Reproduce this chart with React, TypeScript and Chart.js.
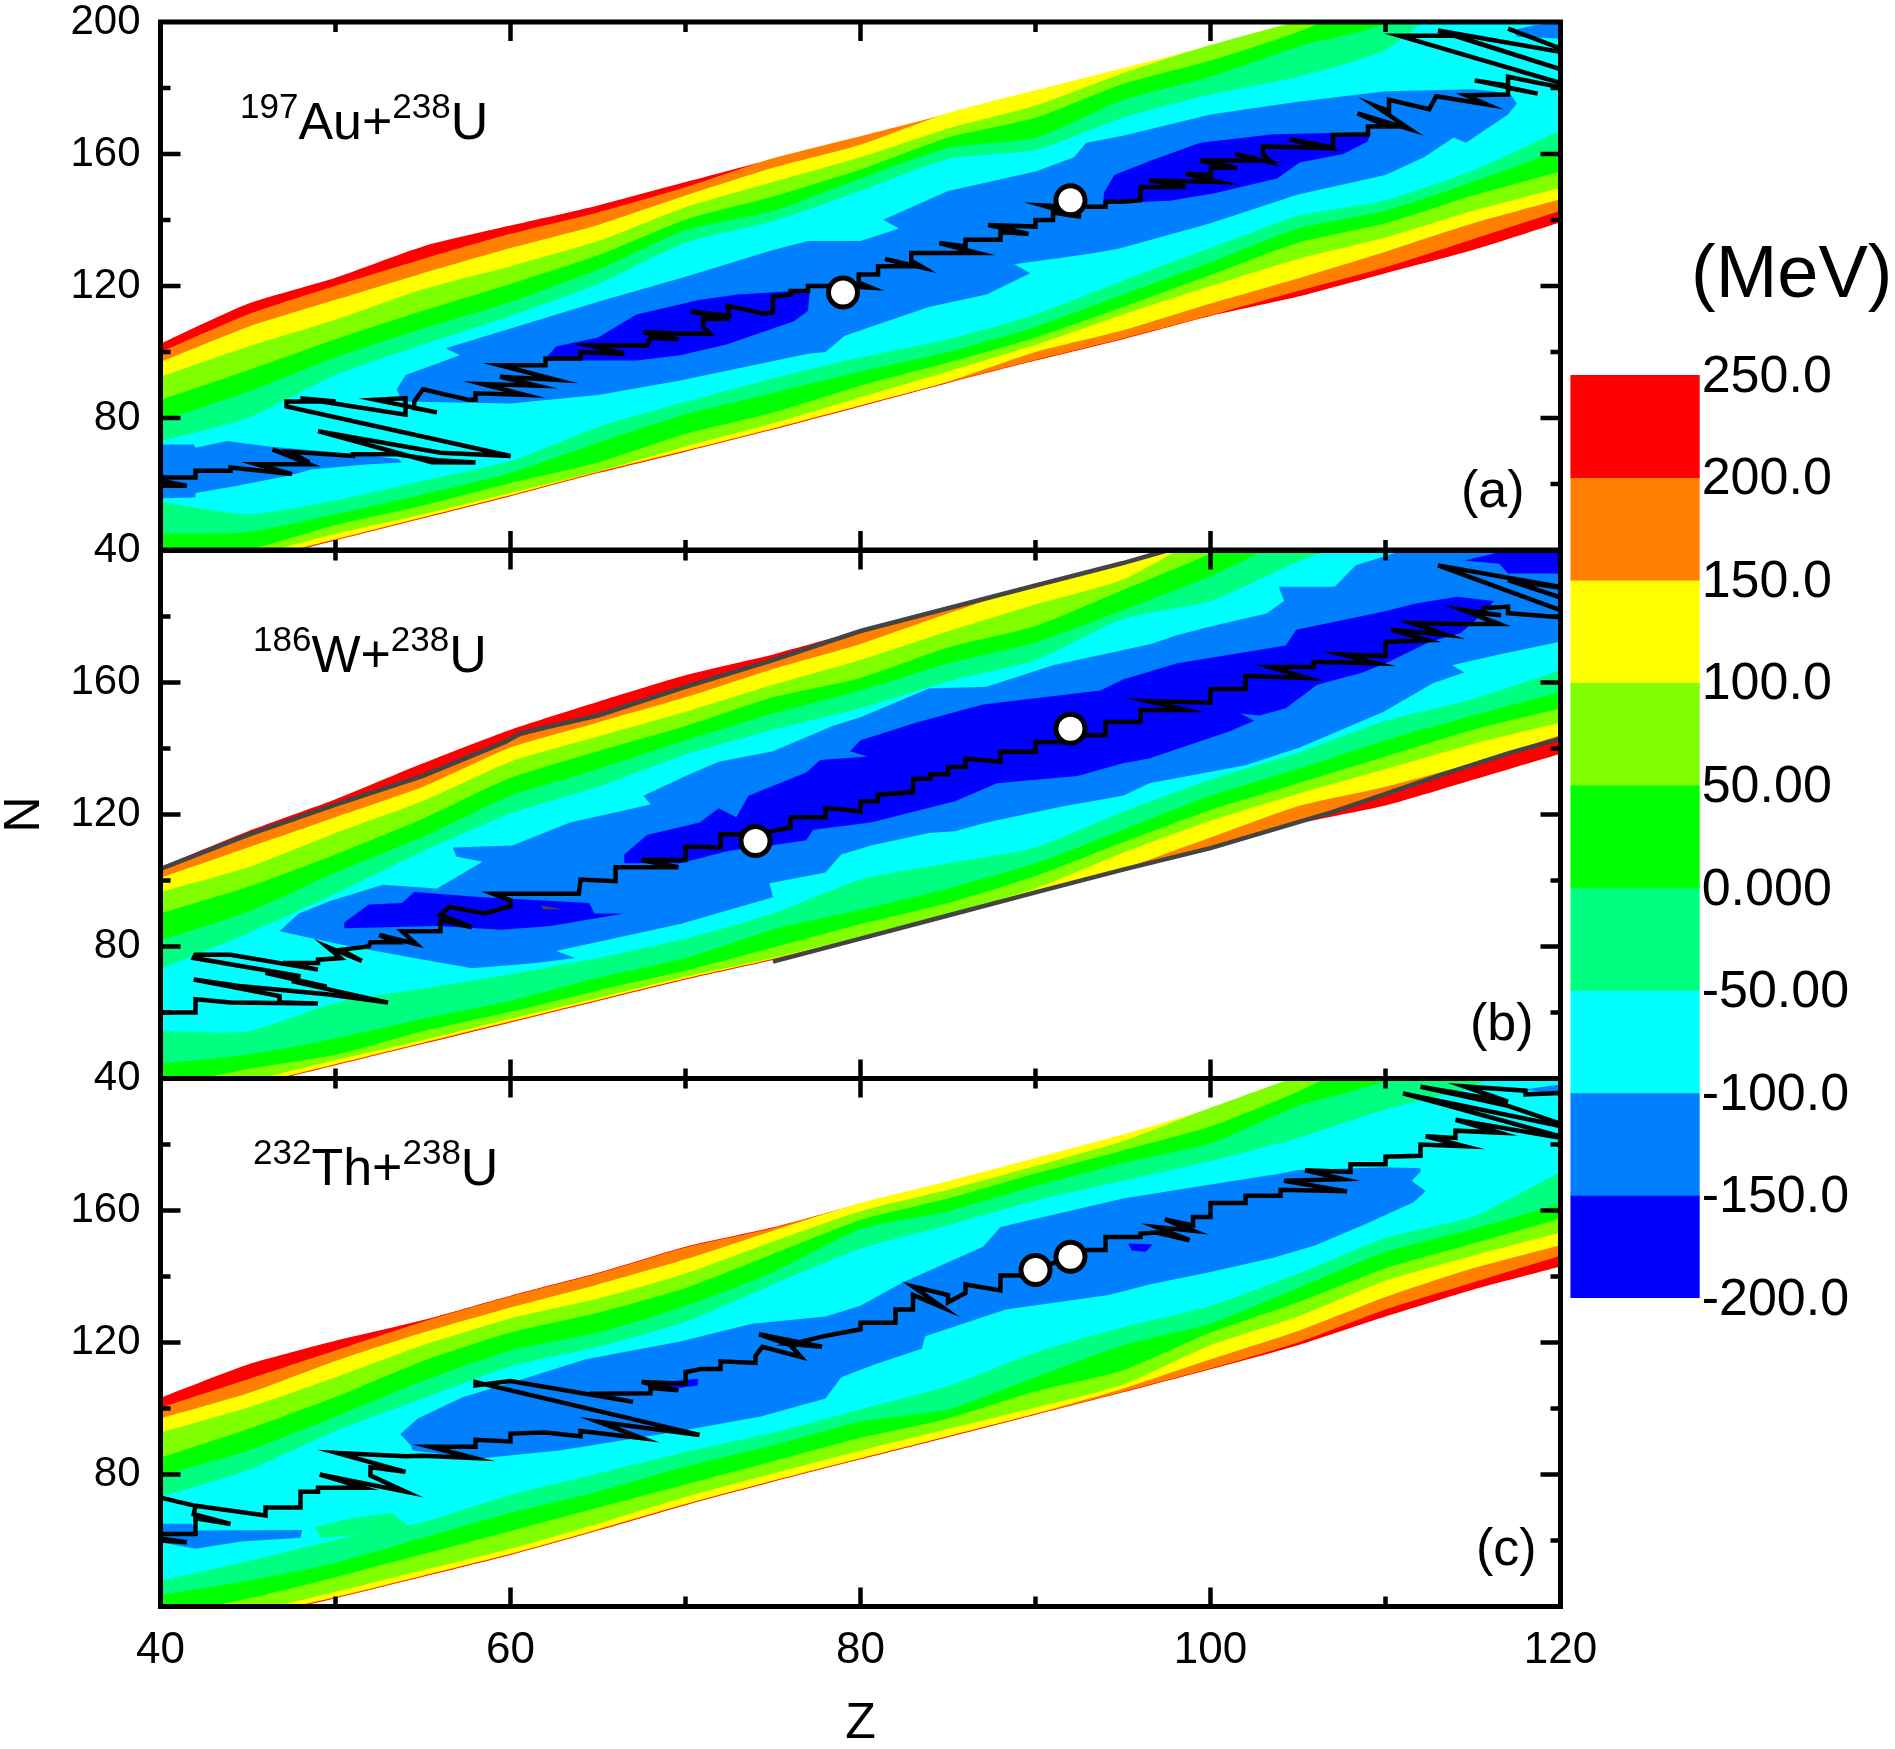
import React, { useEffect, useRef } from "react";
import { Chart, registerables } from "chart.js";

Chart.register(...registerables);

const FONT = "'Liberation Sans', Arial, sans-serif";
const PAGE_W = 1895;
const PAGE_H = 1749;

const zGrid = [40, 45, 50, 55, 60, 65, 70, 75, 80, 85, 90, 95, 100, 105, 110, 115, 120];

// outer to inner: 200-250, 150-200, 100-150, 50-100, 0-50, -50-0, -100--50, -150--100, -200--150
const levelColors = ["#ff0000", "#ff8000", "#ffff00", "#80ff00", "#00ff00", "#00ff80", "#00ffff", "#0080ff", "#0000ff"];
const levelEdges = [250, 200, 150, 100, 50, 0, -50, -100, -150, -200];
const levelLabels = ["250.0", "200.0", "150.0", "100.0", "50.00", "0.000", "-50.00", "-100.0", "-150.0", "-200.0"];

const zMajor = [60, 80, 100];
const zMinor = [50, 70, 90, 110];
const nMajor = [80, 120, 160];
const nMinor = [60, 100, 140, 180];

// panel (a) 197Au+238U
const aUpper = [
  [102.5, 114.6, 122.5, 132, 138.3, 144.4, 151.5, 158.5, 165.2, 172, 178.9, 185.6, 192.4, 199.6, 206, 213, 220],
  [100, 111.4, 120.1, 128.2, 135.8, 142.3, 149.9, 158.7, 165.4, 172.2, 179.1, 185.8, 192.6, 199.8, 206.2, 213.2, 220.2],
  [97, 107.6, 115.8, 123.9, 131.5, 138.5, 147.4, 155.8, 162.8, 172.4, 179.3, 186, 192.8, 200, 206.4, 213.4, 220.4],
  [92.5, 101.7, 109.8, 119, 126, 133.6, 143.9, 151.5, 159, 167.7, 174.7, 184.5, 193, 200.2, 206.6, 213.6, 220.6],
  [85.5, 94.5, 103.9, 112.5, 120.6, 129.3, 140.1, 147.1, 155.3, 165, 171, 181.2, 188.3, 197, 208, 216.5, 224],
  [79, 88, 98.4, 107.1, 115.2, 125, 136.9, 142.8, 152.6, 161.8, 165, 176.4, 183.4, 192.6, 199.5, 216, 223],
  [73, 80, 93, 102.2, 110.9, 120.6, 133.1, 139.6, 148.8, 158.5, 161.2, 171, 178, 183.4, 191.5, 212, 222],
];
const aLower = [
  [29.6, 36.2, 42.9, 49.6, 56.3, 63.3, 69.8, 76.5, 83.5, 90.6, 97.4, 103.9, 110.9, 116.8, 123.9, 130.9, 139.3],
  [29.8, 36.4, 43.1, 49.8, 56.5, 63.5, 70, 76.7, 83.7, 90.8, 97.6, 104.1, 111.1, 118.5, 125.7, 134.2, 142.8],
  [30, 36.6, 43.3, 50, 56.7, 63.7, 70.2, 76.9, 83.9, 91, 100, 106.6, 114.7, 122.3, 130.4, 139, 146.3],
  [30.5, 37.8, 44.9, 50.8, 57.3, 63.8, 71.4, 78.4, 86.3, 94.1, 102.2, 111.4, 120, 128.2, 134.7, 142.8, 149.8],
  [34.6, 40, 47.6, 53.5, 60.3, 66.5, 75.2, 81.7, 89.8, 96.8, 104.4, 113.6, 123.3, 133.1, 139, 147.4, 154.7],
  [44.9, 45.4, 50.8, 56.8, 63.3, 72.5, 81.1, 87.6, 94.1, 100, 107.6, 117.4, 127.1, 137.4, 142.8, 151.5, 161.2],
  [54.6, 50.8, 55, 61, 67, 77.3, 84.9, 92, 98.4, 103.9, 111.4, 121.7, 131.5, 141.2, 146, 155, 167.2],
];
const aAzure = [
  [53.5, 88.7], [54, 93], [57.1, 99], [56.3, 101.1], [60, 107.1], [65, 115.2], [70, 122.8], [75, 130.9], [77, 133.6], [80, 133.6],
  [82.2, 137.4], [81.3, 140.1], [85, 148.8], [90, 154.7], [92.2, 159], [92.9, 163.4], [95, 165.5], [100, 172], [105, 175.8],
  [110, 179], [115, 179.6], [117.1, 178.5], [117.5, 175.3], [117, 172], [114.6, 163.4], [113.9, 165], [112.2, 159], [110, 153.6],
  [105, 147.7], [100, 139], [94.8, 131.4], [93.1, 129.8], [88.8, 126.6], [89.7, 123.9], [87.2, 117.4], [83.9, 113.6], [79.1, 104.9],
  [78, 100], [77, 99.5], [69.7, 91.4], [65, 87], [60, 84.4], [53.8, 85],
];
const aAzureLeft = [
  [40, 72], [41.9, 72], [42, 71], [43.8, 73], [46.2, 71.4], [51, 69.2], [53.6, 67.6], [53.8, 66.5], [51.9, 66], [48.6, 64.4],
  [47.5, 62.7], [44.4, 59.5], [42, 57.3], [42, 55.9], [40, 55.7],
];
const aAzureCorner = [[117.3, 197.5], [117.5, 195.5], [120, 195], [120, 200], [118.5, 199]];
const aBlueLeft = [
  [61.9, 97.4], [62.6, 101.7], [65, 104.4], [67.2, 111.4], [70.8, 115.8], [73, 117.4], [77.1, 118.8], [77, 112.5], [76.2, 109.3],
  [72.3, 102.2], [69.7, 99], [67.2, 97.4],
];
const aBlueRight = [
  [93.9, 148.2], [94.5, 153.6], [96.6, 158], [99.4, 163.4], [103.6, 166], [106.8, 166.4], [109.1, 166], [109, 163.9], [107.6, 160],
  [105.1, 157.4], [103.8, 152.6], [100.3, 148.2], [97.7, 145.8], [93.9, 145],
];
const aPath = [
  [40, 59.5], [41.5, 59.5], [40, 61], [40, 62], [42, 62], [42, 64], [44, 64], [44, 65], [47.5, 63], [45.5, 66], [48.5, 66], [46.4, 70.5],
  [48.5, 66.5], [47.4, 69.8], [51, 68.5], [51, 69], [53.5, 69], [55.8, 67.2], [58, 66.5], [55.5, 66.6], [49, 76], [56, 69.5], [60, 68.5],
  [47.2, 83.5], [47.2, 85], [50, 85], [48, 86], [54, 81], [54, 86], [52.3, 85.5], [55.8, 81.7], [54.5, 83], [54.5, 85], [55, 88.7],
  [57.6, 85.5], [58, 85.5], [58, 87.5], [60.8, 87], [58.4, 90.3], [61.5, 89.8], [59.4, 92.5], [62.6, 91.6], [59.4, 96], [62, 96],
  [62, 98], [64, 98], [64, 100], [66.5, 99.5], [64.5, 102], [67.8, 102], [68, 104.4], [69.6, 103.8], [67.6, 106], [70, 105.5],
  [71.4, 105.5], [71, 107.6], [71, 110], [72.5, 110], [70.3, 112.3], [72.5, 111], [72.4, 114], [74.5, 111.6], [75, 112], [75, 116.8],
  [76, 117.4], [76, 118.5], [77, 118.5], [77, 120], [79, 120], [80.6, 119.5], [79.9, 121], [79.9, 123.5], [81, 123.5], [81, 126],
  [83, 126], [81.4, 128.2], [83.6, 125.5], [82.9, 127.7], [82.9, 130], [85, 130], [86.7, 130], [84.5, 133], [86, 132], [86, 134],
  [88, 134], [88, 136.3], [89.6, 135.8], [87.3, 138.5], [90, 138], [90, 140], [91, 140], [91, 142.3], [92.6, 141], [90.4, 144.4],
  [92, 144], [94, 144], [94, 145.5], [95, 145.5], [96, 146], [96, 150], [98.6, 150], [96.5, 152], [100.5, 151.5], [98.6, 154], [100, 153.6],
  [100, 155.8], [101.5, 155.8], [99.4, 158], [103, 158], [101.4, 160], [103.5, 157.4], [103, 160], [103, 162.3], [106.5, 161.8],
  [104.5, 164.5], [107, 162], [107, 165.8], [109, 166], [109, 168.3], [110.2, 168.3], [108.4, 172.3], [111.4, 167.5], [109.4, 174.6],
  [110.2, 173], [110.2, 176.4], [112.5, 173.6], [112.9, 177.5], [115.8, 175], [114.6, 177.8], [117, 178], [117, 180.7], [115.1, 182.3],
  [118.7, 178.3], [117, 180], [117, 183.4], [120, 180.2], [121, 180], [110.8, 195.8], [114, 195.8], [121, 184], [113, 197.4], [121, 190], [117, 198],
];
const aMarks = [[79, 118], [92, 146]];

// panel (b) 186W+238U
const bUpper = [
  [104, 114.9, 124.6, 135.5, 145.7, 154.2, 162.2, 168.5, 175.8, 182.5, 189.4, 196.2, 204, 211, 218, 225, 232],
  [103.6, 113.8, 123, 131.7, 142.7, 150, 158.7, 166.8, 176, 182.7, 189.6, 196.4, 204.2, 211.2, 218.2, 225.2, 232.2],
  [100.8, 110, 119.2, 128.4, 140.3, 147.9, 155.5, 164.1, 171.7, 180.9, 189.8, 196.6, 204.4, 211.4, 218.4, 225.4, 232.4],
  [96.5, 104, 114.4, 124.1, 136, 143.6, 151.1, 159.3, 166.8, 175.5, 183.6, 191.2, 205, 211.6, 218.6, 225.6, 232.6],
  [90, 98.1, 107.9, 118.7, 131.1, 139.2, 146.8, 155.5, 161.4, 170.6, 177.1, 188, 199, 211.8, 218.8, 225.8, 232.8],
  [81.9, 90.5, 102.4, 113.3, 125.7, 133.8, 142.5, 150.6, 157.6, 165.8, 172.2, 182, 192.3, 205, 219, 226, 233],
  [73.2, 84, 96, 108.9, 120.3, 128.4, 138.2, 145.7, 152.2, 160.3, 166.8, 179.3, 184.7, 196.6, 206, 215, 225],
];
const bLower = [
  [31, 37.5, 44, 50.5, 57, 63.5, 70, 75.9, 82.3, 89.3, 96.3, 103.2, 109.7, 117.2, 122.7, 130.5, 138.4],
  [31.2, 37.7, 44.2, 50.7, 57.2, 63.7, 70.2, 76.1, 82.5, 89.5, 96.5, 103.4, 110, 117.6, 125.7, 134.9, 143],
  [31.4, 37.9, 44.4, 50.9, 57.4, 63.9, 70.4, 76.3, 82.7, 89.7, 96.7, 103.6, 113, 122.5, 128.4, 135.5, 144.1],
  [33, 39.1, 45.6, 51.6, 58.1, 64.4, 70.8, 76.5, 83, 89.9, 97.6, 108.4, 118.1, 126.3, 133.8, 141.4, 147.9],
  [37.5, 42.9, 47.2, 54.3, 60.2, 66.7, 72.7, 79.7, 86.8, 93.2, 101.4, 111.6, 121.4, 129.5, 137.6, 145.7, 152.2],
  [44.5, 47.2, 52.1, 58.1, 63.5, 70.5, 76.5, 85.1, 91.1, 97.6, 105.2, 115.4, 125.7, 133.8, 142.5, 150, 157.1],
  [54.3, 54.3, 62.9, 67.3, 71.6, 76.5, 82.4, 90, 100.3, 105.2, 110, 120.8, 130.6, 138.7, 148.4, 155, 163.6],
];
const bAzure = [
  [46.8, 84.6], [47.9, 90], [49.7, 93.8], [52.7, 98.7], [55.8, 97.6], [58.4, 105.7], [56.9, 107.3], [56.7, 110], [60.1, 110.6],
  [63.4, 117.6], [68, 123], [67.6, 125.7], [70, 131.7], [71.9, 136], [75, 139.2], [78.4, 146.8], [80, 149.5], [83.9, 158.2],
  [87.2, 158.7], [91, 165.2], [96.6, 171.7], [98.1, 174.4], [100, 177], [103.2, 180.9], [104.2, 184.7], [103.9, 189], [107.1, 189],
  [108.3, 195.5], [110.6, 199.3], [110.8, 201], [120, 201], [119.9, 172.3], [116.5, 168.5], [113.8, 165.2], [114.5, 163], [112.7, 159.8],
  [109.9, 151.1], [105.1, 140.3], [102, 134.9], [96.5, 129.5], [95, 125.7], [91.6, 122.5], [87.2, 117.6], [85.4, 114.9], [83.9, 114.4],
  [80.6, 110.6], [78.9, 107.9], [78, 102.4], [74.8, 99.2], [75, 94.9], [69.7, 86.8], [62.6, 78.6], [63.7, 76.5], [61.3, 74.9], [57.8, 73.4],
  [54, 77], [50.1, 80.8],
];
const bBlueLeft = [
  [50.5, 87.3], [51.9, 92.7], [53.8, 93.2], [54.5, 96.5], [58.4, 94.9], [64.5, 93.2], [64.8, 90], [66.5, 90], [62.3, 86.2],
  [59.5, 85.1], [55.8, 86.2], [50.5, 85.5],
];
const bBlueMain = [
  [66.5, 107.9], [67.8, 113.8], [70.8, 117.6], [71.9, 121.9], [72.9, 119.2], [73.6, 125.7], [76.9, 132.7], [77.7, 136.5], [80.4, 137.6],
  [79.4, 139.2], [80, 142.5], [83.2, 147.9], [87, 153.3], [93.7, 157.6], [95, 160.9], [98.1, 165.8], [104.3, 171.2], [104.9, 176],
  [109.9, 181.5], [111.8, 184], [114.1, 186], [116.2, 184.7], [115.8, 182], [114.3, 175], [112.5, 172.3], [110.2, 166.3], [108.7, 163],
  [106.1, 159.3], [104.3, 152.2], [102.8, 150], [101.7, 150.6], [102.5, 148.4], [101.1, 145.2], [96.5, 137], [95, 135.5], [92.4, 131.7],
  [87.8, 129.5], [85.4, 124], [80.6, 117.6], [77.3, 115.4], [76.9, 112.2], [74.9, 110.6], [72.5, 109], [69.7, 105.2], [66.5, 105.2],
];
const bBlueCorner = [[114.5, 197], [116.5, 199.5], [116.5, 201], [120, 201], [120, 193], [117, 193], [116.5, 196]];
const bGraySpot = [[61.7, 92.5], [63, 91.3], [61.9, 91.3]];
const bPath = [
  [40, 60], [42, 60], [42, 64], [44, 63], [49, 62.7], [46.8, 63], [46.8, 65], [41.9, 70], [44.5, 68], [49.5, 65.5], [53, 63], [47.5, 69.5],
  [49.5, 67.8], [46, 72], [48, 71], [41.9, 76.5], [42, 77.5], [44, 77.5], [49, 73], [47, 75], [48, 75], [49, 75], [49, 76], [50.3, 76.5],
  [49.5, 80], [51.5, 75.6], [50.3, 79], [51.9, 80], [52, 81.3], [53.4, 81.3], [52.5, 83.5], [54.6, 80.8], [53.8, 84.6], [56, 84.6], [56, 88],
  [57.8, 85.8], [56, 89.6], [56.5, 92], [58.5, 90], [60, 92.2], [60, 94], [59, 96], [63.9, 96], [64, 100.3], [66, 99.8], [66, 104], [69.6, 104],
  [67.5, 106.2], [70, 106.2], [70, 110.3], [72, 110], [72, 114], [74, 114], [76, 116], [76, 119.2], [78, 119.2], [78, 122], [80, 121], [80, 124],
  [81, 124], [81, 126], [83, 126.8], [83, 130.8], [84, 130.8], [84, 132.2], [85, 132.2], [85, 134.4], [86, 134.4], [86, 137], [88, 136], [88, 139],
  [90, 139], [90, 142], [92, 142], [92, 144], [94, 144], [94, 148], [96, 148], [96, 151.7], [98.6, 151.7], [96.4, 154.4], [100, 153.9], [100, 158],
  [102, 158], [102, 162], [105.5, 161.4], [103.4, 164.7], [105.9, 164.7], [105.9, 166.3], [109.5, 165.8], [107.5, 168.5], [110, 168], [110, 172.3],
  [112.4, 172.8], [110.3, 176], [113.5, 174.4], [111.5, 178], [114, 177.7], [116.5, 177.7], [114.4, 182], [116.6, 180.4], [115.5, 181], [115.6, 182.5],
  [117, 183], [117, 181], [120, 179.8], [121, 180], [113, 195.5], [121, 188], [117, 191], [121, 184],
];
const bMarks = [[74, 112], [92, 146]];
const bGrayTop = [
  [40, 103.5], [45, 113.8], [50, 123], [55, 131.7], [59.7, 142], [60.6, 144.7], [65, 150], [70, 158.7], [75, 166.8], [80, 175.6],
  [85, 182.5], [90, 189.4], [95, 196.2], [97.5, 200],
];
const bGrayBottom = [
  [75, 75.4], [80, 82.4], [85, 89.4], [90, 96.4], [95, 103.3], [100, 109.8], [107, 120.8], [113.3, 132.2], [117.1, 138.7], [120, 143],
];

// panel (c) 232Th+238U
const cUpper = [
  [103.2, 113.3, 120.5, 126.8, 134.2, 141.1, 149, 154.9, 162, 168.5, 175.5, 182.6, 190.5, 200, 208, 215, 222],
  [100.3, 108.9, 117.6, 126.3, 134, 140.9, 148.8, 154.7, 162.1, 168.7, 175.7, 182.8, 190.7, 200.2, 208.2, 215.2, 222.2],
  [97, 104.6, 114.4, 123, 130.6, 137.6, 145.2, 153.9, 162.3, 168.9, 175.9, 183, 190.9, 200.4, 208.4, 215.4, 222.4],
  [92.7, 100.3, 109.5, 119.2, 127.3, 133.3, 140.9, 150.6, 159.8, 166.3, 173.5, 181, 191.1, 200.6, 208.6, 215.6, 222.6],
  [85.1, 93.8, 103.5, 114.4, 123, 129, 136.5, 146.8, 157.1, 163.6, 171.2, 178.2, 185.5, 196, 208.8, 215.8, 222.8],
  [79.7, 87.3, 97.6, 108.4, 117.6, 123, 131.1, 141.4, 154.4, 159.8, 167.4, 174.4, 180.4, 191.7, 199.3, 216, 223],
  [73.2, 81.3, 93.2, 103, 112.7, 118.7, 126.3, 137.6, 148.4, 155.5, 163, 169, 175, 182, 190.6, 197.7, 212],
];
const cLower = [
  [30, 36.5, 42.5, 49, 55.6, 63, 70.7, 77.8, 84.6, 91.3, 98.1, 104.9, 111.9, 119.2, 127.9, 136, 143],
  [30.2, 36.7, 42.7, 49.2, 55.8, 63.2, 70.9, 78, 84.8, 91.5, 98.3, 105.1, 112.1, 120, 130, 138.2, 146.3],
  [30.4, 36.9, 42.9, 49.4, 56, 63.4, 71.1, 78.2, 85, 91.7, 98.5, 106, 114.9, 123.5, 133.8, 142.5, 149.5],
  [31, 38, 44.5, 51, 57.5, 65.1, 73.2, 80.3, 87.3, 93.8, 100.3, 107.3, 119.2, 127.9, 138.7, 146.3, 153.3],
  [37, 42.4, 48.9, 55.9, 62.9, 70, 77, 84, 91.1, 97, 105.2, 111.6, 123, 132.2, 142.5, 150, 157.6],
  [43.5, 47.8, 53.2, 60.8, 68.4, 74.8, 82.4, 88.9, 96, 99.7, 109.5, 119.2, 125.7, 136.5, 147.4, 154.4, 162],
  [47.8, 53.7, 60.2, 65.6, 73.8, 80.3, 86.8, 92.7, 99.7, 106.8, 117, 124.6, 131.1, 140.9, 151.7, 158.2, 171.7],
];
const cSpringPatch = [[48.8, 64], [50.8, 66.7], [53.2, 68.4], [54.5, 63], [51.9, 61.9], [49.2, 60.8]];
const cAzure = [
  [53.7, 92.2], [54.7, 97], [57.3, 103.5], [60.4, 108.4], [64.3, 114.9], [69.7, 120.3], [73.8, 125.7], [78, 127.9], [80, 131.1], [82.4, 138.2],
  [87, 149], [88, 155], [95, 163.6], [100, 167.9], [104, 171.2], [105, 172.3], [110, 173.1], [112, 172.8], [112, 171.7], [111.5, 169], [112.3, 165.8],
  [111.6, 162.5], [108.9, 156], [106, 149.5], [103.6, 145.7], [100, 141.4], [96.5, 137.6], [94.2, 134.4], [88.3, 130], [83.7, 121.9], [83.5, 118.1],
  [80.8, 113.3], [78.9, 109.5], [78, 103], [74.3, 97.6], [69.7, 93.2], [62.8, 87.3], [58.1, 84.8], [54.4, 87.3], [54.3, 88.9],
];
const cAzureLeft = [[40, 65.1], [41.8, 65.1], [42, 63], [48.1, 63.2], [48, 60.8], [44.6, 59.7], [42, 57.5], [40, 59.5]];
const cAzureCorner = [[117.8, 196.6], [120, 198.2], [120, 195.5]];
const cBlueSpotLeft = [[67.6, 107.5], [70.7, 109], [70.7, 107], [69.7, 106.3], [68.1, 106.3]];
const cBlueSpotRight = [[95.3, 150], [96.7, 149.8], [96.3, 147.5], [95.5, 147.9]];
const cPath = [
  [40, 60], [41.5, 59.5], [40, 60.6], [40, 62], [42, 62], [42, 66.7], [44, 65], [41.9, 68], [42, 70.5], [40, 73], [42, 70.5], [46, 67.6], [46, 70],
  [48, 70], [48, 74.8], [49, 74.8], [49, 76], [51.6, 76], [49.1, 80], [54, 74.8], [52, 79.7], [52, 82.2], [54, 80.8], [50.1, 86.5], [54, 85.5],
  [55, 85.7], [57.9, 85], [55.4, 88.4], [58, 88.4], [58, 90.5], [60, 90], [60, 92.4], [62, 92.7], [64, 91.6], [64, 93.2], [67.5, 91], [65, 96],
  [70.8, 92], [58, 108], [58, 107], [60, 108.3], [67, 102], [64.5, 104.5], [68, 104.6], [68, 106.2], [69.6, 105.5], [67.5, 108], [70, 107.5],
  [70, 111], [70.9, 112], [72, 112], [72, 114.3], [74, 113.8], [74, 116], [74.4, 118.7], [76.6, 115.6], [76, 119.2], [74.2, 122.5], [77.8, 118.7],
  [76, 119.5], [78, 122], [80, 124], [80, 126], [82, 126], [82, 130], [83, 130], [83, 134.4], [84.7, 130.6], [83, 137], [85, 134.4], [85, 132.2],
  [86, 135], [86, 137.6], [88, 135.8], [88, 140.3], [90, 140.3], [90, 142], [92, 146], [92.9, 148], [94, 148], [94, 152], [96, 152], [96, 153],
  [96.9, 153.3], [98.8, 151], [96.9, 155], [99, 153.9], [97.4, 157.3], [99, 155.5], [99, 158], [100, 158], [100, 162.3], [102, 162.3], [102, 164.5],
  [104, 164.5], [104, 166.3], [107.8, 165.8], [104.2, 169], [107.6, 169.5], [105.4, 172.2], [108, 171.7], [108, 174], [110, 174], [110, 176.3],
  [112, 176.6], [112, 180], [114.5, 179.5], [112.3, 182.5], [114, 182], [114, 184.2], [116.5, 183.6], [114, 187.5], [120, 182], [121, 181],
  [111, 195.5], [121, 184.5], [117, 191.7], [112, 197.5], [117, 193], [114.5, 197.6], [118, 196.3], [118, 195.2], [121, 195.8],
];
const cMarks = [[90, 142], [92, 146]];

type Pair = number[];
type Run = { text: string; sup?: boolean };

const toXY = (pairs: Pair[]) => pairs.map(([x, y]) => ({ x, y }));

// off-plot anchors at both ends keep the spline from bending where the outline turns round
const edgeRun = (row: number[]) => {
  const last = row.length - 1;
  return [
    { x: zGrid[0] - 5, y: 2 * row[0] - row[1] },
    ...row.map((n, i) => ({ x: zGrid[i], y: n })),
    { x: zGrid[last] + 5, y: 2 * row[last] - row[last - 1] },
  ];
};

const bandPoints = (upper: number[], lower: number[]) => [...edgeRun(upper), ...edgeRun(lower).reverse()];

const region = (points: { x: number; y: number }[], color: string, tension = 0) => ({
  data: points,
  showLine: true,
  fill: "shape",
  backgroundColor: color,
  borderColor: color,
  borderWidth: 0,
  pointRadius: 0,
  tension,
});

const pathLine = (pairs: Pair[], color: string, width: number) => ({
  data: toXY(pairs),
  showLine: true,
  fill: false,
  borderColor: color,
  borderWidth: width,
  borderJoinStyle: "miter",
  pointRadius: 0,
  tension: 0,
});

const drawRuns = (ctx: CanvasRenderingContext2D, runs: Run[], x: number, y: number) => {
  let cursor = x;
  ctx.fillStyle = "#000";
  ctx.textBaseline = "alphabetic";
  ctx.textAlign = "left";
  runs.forEach((run) => {
    ctx.font = `${run.sup ? 35 : 52}px ${FONT}`;
    ctx.fillText(run.text, cursor, run.sup ? y - 21 : y);
    cursor += ctx.measureText(run.text).width;
  });
};

// frame with ticks pointing inwards on all four sides, plus the panel's texts
const panelDecor = (title: Run[], titleX: number, titleY: number, tag: string, tagX: number, tagY: number) => ({
  id: "panelDecor",
  afterDatasetsDraw(chart: any) {
    const { ctx, chartArea: area, scales } = chart;
    ctx.save();
    ctx.strokeStyle = "#000";
    ctx.lineWidth = 4.5;
    const tickX = (values: number[], len: number) =>
      values.forEach((v) => {
        const px = scales.x.getPixelForValue(v);
        ctx.beginPath();
        ctx.moveTo(px, area.top);
        ctx.lineTo(px, area.top + len);
        ctx.moveTo(px, area.bottom);
        ctx.lineTo(px, area.bottom - len);
        ctx.stroke();
      });
    const tickY = (values: number[], len: number) =>
      values.forEach((v) => {
        const py = scales.y.getPixelForValue(v);
        ctx.beginPath();
        ctx.moveTo(area.left, py);
        ctx.lineTo(area.left + len, py);
        ctx.moveTo(area.right, py);
        ctx.lineTo(area.right - len, py);
        ctx.stroke();
      });
    tickX(zMajor, 19);
    tickX(zMinor, 10);
    tickY(nMajor, 20);
    tickY(nMinor, 10);
    ctx.lineWidth = 5;
    ctx.strokeRect(area.left, area.top, area.right - area.left, area.bottom - area.top);
    drawRuns(ctx, title, titleX, titleY);
    ctx.font = `52px ${FONT}`;
    ctx.fillText(tag, tagX, tagY);
    ctx.restore();
  },
});

const makePanel = (
  canvas: HTMLCanvasElement,
  top: number,
  bottom: number,
  datasets: any[],
  nLabels: number[],
  withZAxis: boolean,
  withNTitle: boolean,
  decor: any
) =>
  new Chart(canvas, {
    type: "scatter",
    // first dataset is painted last, so the list is built inner to outer
    data: { datasets },
    plugins: [decor],
    options: {
      animation: false,
      responsive: false,
      devicePixelRatio: 1,
      layout: { autoPadding: false, padding: { top, right: PAGE_W - 1560.5, left: 0, bottom: 0 } },
      plugins: { legend: { display: false }, tooltip: { enabled: false } },
      scales: {
        x: {
          type: "linear",
          min: 40,
          max: 120,
          grid: { display: false, drawTicks: false },
          border: { display: false },
          title: {
            display: withZAxis,
            text: "Z",
            color: "#000",
            font: { family: FONT, size: 50, lineHeight: 1 },
            padding: 0,
          },
          ticks: {
            display: withZAxis,
            stepSize: 20,
            autoSkip: false,
            maxRotation: 0,
            padding: 18,
            color: "#000",
            font: { family: FONT, size: 44 },
          },
          afterFit: (scale: any) => {
            scale.height = PAGE_H - bottom;
            scale.paddingLeft = 0;
            scale.paddingRight = 0;
          },
        },
        y: {
          type: "linear",
          min: 40,
          max: 200,
          grid: { display: false, drawTicks: false },
          border: { display: false },
          title: {
            display: withNTitle,
            text: "N",
            color: "#000",
            font: { family: FONT, size: 50, lineHeight: 1 },
            padding: 0,
          },
          ticks: {
            stepSize: 40,
            autoSkip: false,
            padding: 20,
            color: "#000",
            font: { family: FONT, size: 42 },
            callback: (v: any) => (nLabels.includes(Number(v)) ? String(v) : ""),
          },
          afterFit: (scale: any) => {
            scale.width = 160.5;
            scale.paddingTop = 0;
            scale.paddingBottom = 0;
          },
        },
      },
    },
  } as any);

const panelDatasets = (upper: number[][], lower: number[][], inner: any[]) => [
  ...inner,
  ...upper.map((row, i) => region(bandPoints(row, lower[i]), levelColors[i], 0.2)).reverse(),
];

const markDataset = (marks: Pair[]) => ({
  data: toXY(marks),
  showLine: false,
  pointRadius: 14.5,
  pointBorderWidth: 5,
  pointBackgroundColor: "#fff",
  pointBorderColor: "#000",
});

const colorBarFloats = levelColors.map((color, i) => ({
  data: [[levelEdges[i + 1], levelEdges[i]]],
  backgroundColor: color,
  barPercentage: 1,
  categoryPercentage: 1,
  borderWidth: 0,
}));

const barTitle = {
  id: "barTitle",
  afterDraw(chart: any) {
    const { ctx } = chart;
    ctx.save();
    ctx.fillStyle = "#000";
    ctx.textAlign = "left";
    ctx.textBaseline = "alphabetic";
    ctx.font = `74px ${FONT}`;
    ctx.fillText("(MeV)", 1691, 297);
    ctx.restore();
  },
};

const App: React.FC = () => {
  const refA = useRef<HTMLCanvasElement | null>(null);
  const refB = useRef<HTMLCanvasElement | null>(null);
  const refC = useRef<HTMLCanvasElement | null>(null);
  const refBar = useRef<HTMLCanvasElement | null>(null);

  useEffect(() => {
    const azure = levelColors[7];
    const blue = levelColors[8];
    const gray = "#444444";

    const chartA = makePanel(
      refA.current!,
      22,
      550,
      panelDatasets(aUpper, aLower, [
        markDataset(aMarks),
        pathLine(aPath, "#000", 4.5),
        region(toXY(aBlueRight), blue),
        region(toXY(aBlueLeft), blue),
        region(toXY(aAzureCorner), azure),
        region(toXY(aAzureLeft), azure),
        region(toXY(aAzure), azure),
      ]),
      [200, 160, 120, 80, 40],
      false,
      false,
      panelDecor(
        [{ text: "197", sup: true }, { text: "Au+" }, { text: "238", sup: true }, { text: "U" }],
        240,
        139,
        "(a)",
        1461,
        507
      )
    );

    const chartB = makePanel(
      refB.current!,
      550.5,
      1078.5,
      panelDatasets(bUpper, bLower, [
        markDataset(bMarks),
        pathLine(bPath, "#000", 4.5),
        pathLine(bGrayTop, gray, 4.5),
        pathLine(bGrayBottom, gray, 4.5),
        region(toXY(bGraySpot), gray),
        region(toXY(bBlueCorner), blue),
        region(toXY(bBlueMain), blue),
        region(toXY(bBlueLeft), blue),
        region(toXY(bAzure), azure),
      ]),
      [160, 120, 80, 40],
      false,
      true,
      panelDecor(
        [{ text: "186", sup: true }, { text: "W+" }, { text: "238", sup: true }, { text: "U" }],
        253,
        672,
        "(b)",
        1470,
        1040
      )
    );

    const chartC = makePanel(
      refC.current!,
      1078.5,
      1606.5,
      panelDatasets(cUpper, cLower, [
        markDataset(cMarks),
        pathLine(cPath, "#000", 4.5),
        region(toXY(cBlueSpotLeft), blue),
        region(toXY(cBlueSpotRight), blue),
        region(toXY(cAzureCorner), azure),
        region(toXY(cAzureLeft), azure),
        region(toXY(cAzure), azure),
        region(toXY(cSpringPatch), levelColors[5]),
      ]),
      [160, 120, 80],
      true,
      false,
      panelDecor(
        [{ text: "232", sup: true }, { text: "Th+" }, { text: "238", sup: true }, { text: "U" }],
        253,
        1185,
        "(c)",
        1476,
        1565
      )
    );

    const chartBar = new Chart(refBar.current!, {
      type: "bar",
      data: { labels: ["level"], datasets: colorBarFloats },
      plugins: [barTitle],
      options: {
        animation: false,
        responsive: false,
        devicePixelRatio: 1,
        layout: { autoPadding: false, padding: { left: 1570.4, top: 375, bottom: PAGE_H - 1298, right: 0 } },
        plugins: { legend: { display: false }, tooltip: { enabled: false } },
        scales: {
          x: { display: false, stacked: true },
          y: { display: false, min: -200, max: 250 },
          // label axis sits a hair lower than the bar's own axis, as in the original
          yLabels: {
            position: "right",
            min: -198.8,
            max: 251.2,
            grid: { display: false, drawTicks: false },
            border: { display: false },
            afterBuildTicks: (scale: any) => {
              scale.ticks = levelEdges.map((value) => ({ value }));
            },
            ticks: {
              autoSkip: false,
              padding: 2,
              color: "#000",
              font: { family: FONT, size: 52 },
              callback: (v: any) => levelLabels[levelEdges.indexOf(Number(v))],
            },
            afterFit: (scale: any) => {
              scale.width = PAGE_W - 1699.7;
            },
          },
        },
      },
    } as any);

    return () => {
      chartA.destroy();
      chartB.destroy();
      chartC.destroy();
      chartBar.destroy();
    };
  }, []);

  const canvasStyle: React.CSSProperties = { position: "absolute", left: 0, top: 0 };

  return (
    <div style={{ position: "absolute", left: 0, top: 0, width: PAGE_W, height: PAGE_H, background: "#fff", overflow: "hidden" }}>
      <canvas ref={refBar} width={PAGE_W} height={PAGE_H} style={canvasStyle} />
      <canvas ref={refA} width={PAGE_W} height={PAGE_H} style={canvasStyle} />
      <canvas ref={refB} width={PAGE_W} height={PAGE_H} style={canvasStyle} />
      <canvas ref={refC} width={PAGE_W} height={PAGE_H} style={canvasStyle} />
    </div>
  );
};

export default App;
